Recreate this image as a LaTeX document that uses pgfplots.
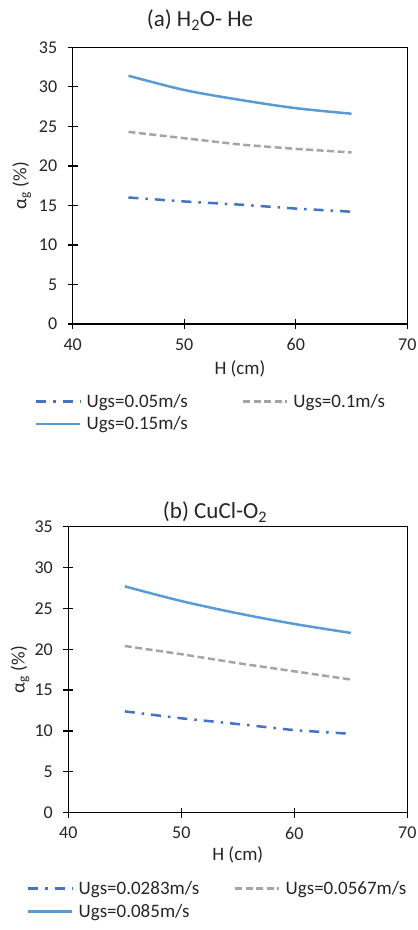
\documentclass[border=0pt]{standalone}
\usepackage{pgfplots}
\pgfplotsset{compat=1.18}
\usepackage{fontspec}
\setmainfont{Carlito}
\definecolor{cblue}{HTML}{4472C4}
\definecolor{cgray}{HTML}{A5A5A5}
\definecolor{clblue}{HTML}{5B9BD5}
\definecolor{ctext}{HTML}{262626}
\pgfplotsset{
  myaxis/.style={
    scale only axis,
    xmin=40, xmax=70, ymin=0, ymax=35,
    xtick={40,50,60,70}, ytick={0,5,...,35},
    axis line style={line width=1.3pt},
    tick style={line width=1.3pt, black},
    major tick length=10pt,
    tick align=center,
    xtick pos=bottom, ytick pos=left,
    /pgf/number format/assume math mode=true,
    ticklabel style={font=\fontsize{18}{20}\selectfont, text=ctext},
    yticklabel style={xshift=-7pt},
    xticklabel style={yshift=-6pt},
    xlabel={H (cm)},
    ylabel={α\textsubscript{g} (\%)},
    legend cell align=left,
    legend image code/.code={\draw[##1] (0pt,0pt) -- (44pt,0pt);},
    legend style={draw=none, fill=none, inner sep=0pt, anchor=north west,
      font=\fontsize{19}{21}\selectfont, text=ctext, row sep=4pt},
    legend columns=2,
  },
  s1/.style={cblue, line width=2.5pt, dash pattern=on 10pt off 7pt on 2.5pt off 7pt},
  s2/.style={cgray, line width=2.5pt, dash pattern=on 7pt off 3.5pt},
  s3/.style={clblue, line width=2.5pt},
}
\begin{document}
\begin{tikzpicture}
\useasboundingbox (0pt,0pt) rectangle (418pt,930pt);
\node[font=\fontsize{23}{25}\selectfont, text=ctext] at (200pt,910pt) {(a) H\textsubscript{2}O- He};
\begin{axis}[myaxis,
  at={(72.7pt,606pt)}, anchor=south west,
  width=334.6pt, height=276.7pt,
  every axis y label/.style={at={(axis description cs:-0.152,0.5)}, rotate=90, anchor=center, font=\fontsize{19}{21}\selectfont, text=ctext},
  every axis x label/.style={at={(axis description cs:0.5,-0.163)}, anchor=center, font=\fontsize{19}{21}\selectfont, text=ctext},
  legend style={at={(axis description cs:-0.113,-0.245)},
    /tikz/every even column/.append style={column sep=52pt},
    /tikz/every odd column/.append style={column sep=3pt}},
]
\addplot[s1] coordinates {(45,16.0) (50,15.5) (55,15.1) (60,14.6) (65,14.2)};
\addlegendentry{Ugs=0.05m/s}
\addplot[s2] coordinates {(45,24.3) (50,23.5) (55,22.7) (60,22.15) (65,21.7)};
\addlegendentry{Ugs=0.1m/s}
\addplot[s3, smooth] coordinates {(45,31.4) (50,29.6) (55,28.35) (60,27.3) (65,26.6)};
\addlegendentry{Ugs=0.15m/s}
\end{axis}
\node[font=\fontsize{23}{25}\selectfont, text=ctext] at (215pt,418pt) {(b) CuCl-O\textsubscript{2}};
\begin{axis}[myaxis,
  at={(68.3pt,117.3pt)}, anchor=south west,
  width=339pt, height=286pt,
  every axis y label/.style={at={(axis description cs:-0.1425,0.5)}, rotate=90, anchor=center, font=\fontsize{19}{21}\selectfont, text=ctext},
  every axis x label/.style={at={(axis description cs:0.5,-0.148)}, anchor=center, font=\fontsize{19}{21}\selectfont, text=ctext},
  legend style={at={(axis description cs:-0.122,-0.232)},
    /tikz/every even column/.append style={column sep=33pt},
    /tikz/every odd column/.append style={column sep=3pt}},
]
\addplot[s1] coordinates {(45,12.4) (50,11.55) (55,10.85) (60,10.1) (65,9.65)};
\addlegendentry{Ugs=0.0283m/s}
\addplot[s2] coordinates {(45,20.4) (50,19.4) (55,18.3) (60,17.3) (65,16.3)};
\addlegendentry{Ugs=0.0567m/s}
\addplot[s3, smooth] coordinates {(45,27.7) (50,25.9) (55,24.4) (60,23.1) (65,22.0)};
\addlegendentry{Ugs=0.085m/s}
\end{axis}
\end{tikzpicture}
\end{document}
